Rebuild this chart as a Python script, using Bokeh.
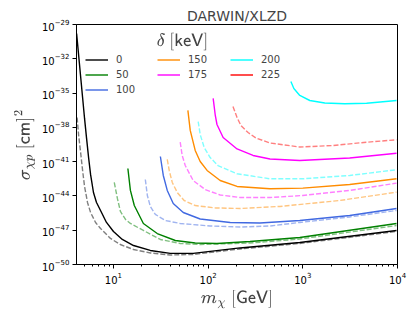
from bokeh.plotting import figure
from bokeh.models import Range1d, FixedTicker, Legend, LegendItem, Label
from bokeh.embed import file_html
from bokeh.resources import INLINE

# ---- data: WIMP mass [GeV] and log10 of cross-section [cm^2] ----
deltas = [0, 50, 100, 150, 175, 200, 225]
colors = ["black", "green", "royalblue", "darkorange", "magenta", "cyan", "red"]

# delta = 0 keV
m_d0 = [4.08, 4.29, 4.50, 4.72, 4.95, 5.20, 5.46, 5.73, 6.15, 6.62, 7.30, 8.44, 10.0, 12.4, 16.3, 24.5, 39.8, 69.5, 217, 929, 9770]
s_d0 = [-29.79, -31.71, -33.55, -35.39, -37.22, -38.97, -40.64, -42.12, -43.70, -44.57, -45.27, -46.32, -47.11, -47.81, -48.34, -48.77, -49.03, -49.03, -48.55, -48.07, -47.02]
m_d0_dash = [4.13, 4.29, 4.50, 4.72, 4.95, 5.32, 5.73, 6.47, 7.30, 9.30, 11.8, 16.3, 24.5, 39.8, 69.5, 217, 929, 9770]
s_d0_dash = [-37.14, -38.71, -40.20, -41.77, -43.17, -44.57, -45.45, -46.32, -46.85, -47.72, -48.25, -48.69, -48.99, -49.17, -49.12, -48.64, -48.16, -47.11]

# delta = 50 keV
m_d50 = [14.2, 15.1, 16.6, 20.7, 29.0, 45.0, 73.0, 124, 277, 929, 9770]
s_d50 = [-41.60, -43.52, -44.84, -46.41, -47.29, -47.90, -48.12, -48.16, -47.99, -47.64, -46.41]
m_d50_dash = [10.2, 11.0, 11.85, 13.4, 15.1, 20.7, 31.3, 50.7, 82.4, 277, 929, 9770]
s_d50_dash = [-42.82, -44.22, -45.36, -46.06, -46.41, -47.02, -47.81, -48.16, -48.25, -48.12, -47.77, -46.59]

# delta = 100 keV
m_d100 = [31.3, 33.6, 37.0, 42.8, 54.6, 82.4, 171, 352, 929, 3126, 9770]
s_d100 = [-40.55, -42.21, -43.52, -44.66, -45.45, -46.02, -46.32, -46.37, -46.15, -45.71, -45.10]
m_d100_dash = [21.7, 22.8, 24.5, 27.7, 35.3, 50.7, 105, 217, 450, 929, 3126, 9770]
s_d100_dash = [-42.56, -43.96, -44.92, -45.62, -46.15, -46.41, -46.63, -46.72, -46.63, -46.32, -45.84, -45.27]

# delta = 150 keV
m_d150 = [61.1, 64.7, 73.0, 82.4, 97.5, 134, 202, 450, 1000, 3126, 9770]
s_d150 = [-36.52, -38.27, -40.02, -40.99, -41.77, -42.65, -43.17, -43.37, -43.32, -43.00, -42.50]
m_d150_dash = [37.0, 38.8, 41.8, 47.2, 55.8, 73.0, 119, 217, 573, 2449, 9770]
s_d150_dash = [-40.81, -41.77, -42.82, -43.70, -44.40, -44.84, -45.05, -45.10, -44.92, -44.40, -43.67]

# delta = 175 keV
m_d175 = [113, 119, 124, 144, 202, 298, 450, 929, 3126, 9770]
s_d175 = [-35.47, -36.96, -37.75, -38.89, -39.89, -40.46, -40.77, -40.90, -40.68, -40.26]
m_d175_dash = [50.7, 53.2, 57.3, 69.5, 93.0, 134, 217, 450, 1000, 3126, 9770]
s_d175_dash = [-39.30, -40.46, -41.34, -42.65, -43.44, -43.92, -44.14, -44.14, -43.96, -43.52, -42.88]

# delta = 200 keV
m_d200 = [748, 804, 929, 1185, 1706, 2766, 4718, 9770]
s_d200 = [-33.99, -34.60, -35.21, -35.65, -35.87, -35.94, -35.89, -35.65]
m_d200_dash = [78.5, 82.4, 90.8, 105, 127, 202, 450, 1000, 3126, 9770]
s_d200_dash = [-37.49, -38.62, -39.76, -40.64, -41.34, -42.06, -42.50, -42.50, -42.21, -41.71]

# delta = 225 keV (solid curve lies outside the plotted mass range)
m_d225 = []
s_d225 = []
m_d225_dash = [183, 202, 222, 264, 320, 450, 929, 2070, 4718, 9770]
s_d225_dash = [-36.17, -37.14, -37.84, -38.45, -38.93, -39.37, -39.72, -39.59, -39.30, -39.09]

x_major = [10, 100, 1000, 10000]
x_minor = [4, 5, 6, 7, 8, 9, 20, 30, 40, 50, 60, 70, 80, 90,
           200, 300, 400, 500, 600, 700, 800, 900,
           2000, 3000, 4000, 5000, 6000, 7000, 8000, 9000]
y_major_exp = [-50, -47, -44, -41, -38, -35, -32, -29]

solid_m = [m_d0, m_d50, m_d100, m_d150, m_d175, m_d200, m_d225]
solid_s = [s_d0, s_d50, s_d100, s_d150, s_d175, s_d200, s_d225]
dash_m = [m_d0_dash, m_d50_dash, m_d100_dash, m_d150_dash, m_d175_dash, m_d200_dash, m_d225_dash]
dash_s = [s_d0_dash, s_d50_dash, s_d100_dash, s_d150_dash, s_d175_dash, s_d200_dash, s_d225_dash]

FONT = "DejaVu Sans"

p = figure(width=415, height=314, x_axis_type="log", y_axis_type="log",
           x_range=Range1d(4.07, 1e4), y_range=Range1d(1e-50, 1e-29),
           output_backend="svg", toolbar_location=None,
           min_border_left=76, min_border_right=18, min_border_top=24, min_border_bottom=50,
           title="DARWIN/XLZD")
p.title.align = "center"
p.title.text_font = FONT
p.title.text_font_style = "normal"
p.title.text_font_size = "14px"
p.title.standoff = 2
p.title.offset = 0

p.xgrid.visible = False
p.ygrid.visible = False
p.outline_line_color = "black"
p.outline_line_width = 1
p.background_fill_color = "white"
p.border_fill_color = "white"

p.xaxis.ticker = FixedTicker(ticks=x_major, minor_ticks=x_minor)
p.yaxis.ticker = FixedTicker(ticks=[10.0 ** e for e in y_major_exp], minor_ticks=[])
for ax in (p.xaxis, p.yaxis):
    ax.major_label_text_font = FONT
    ax.major_label_text_font_size = "10px"
    ax.major_label_text_color = "black"
    ax.major_tick_out = 4
    ax.major_tick_in = 0
    ax.minor_tick_out = 2
    ax.minor_tick_in = 0
    ax.axis_line_color = "black"
    ax.major_tick_line_color = "black"
    ax.minor_tick_line_color = "black"
    ax.axis_label_text_font_style = "normal"
    ax.axis_label_text_font_size = "14px"
p.xaxis.major_label_standoff = 3
p.yaxis.major_label_standoff = 3
p.xaxis.axis_label = r"$$m_{\chi}\ [\mathsf{GeV}]$$"
p.yaxis.axis_label = r"$$\sigma_{\chi p}\ [\mathsf{cm}]^2$$"
p.xaxis.axis_label_standoff = 3
p.yaxis.axis_label_standoff = 4

solid_r = []
for mm, ss, c in zip(solid_m, solid_s, colors):
    xs = list(mm) if mm else [float("nan")]
    ys = [10.0 ** v for v in ss] if ss else [float("nan")]
    r = p.line(xs, ys, line_color=c, line_width=1.4)
    solid_r.append(r)
for mm, ss, c in zip(dash_m, dash_s, colors):
    p.line(mm, [10.0 ** v for v in ss], line_color=c, line_width=1.4,
           line_alpha=0.5, line_dash="5 2")

groups = [(0, 3, 9), (3, 5, 81), (5, 7, 154)]
for a, b, xpos in groups:
    items = [LegendItem(label=str(deltas[i]), renderers=[solid_r[i]]) for i in range(a, b)]
    n = b - a
    height = n * 15.5
    leg = Legend(items=items, location=(xpos, 240 - 26.5 - height),
                 orientation="vertical", border_line_color=None,
                 background_fill_alpha=0, padding=0, margin=0, spacing=0,
                 glyph_width=23, glyph_height=15, label_height=15,
                 label_standoff=8, label_text_font=FONT,
                 label_text_font_size="10px")
    p.add_layout(leg, "center")

p.add_layout(Label(x=106, y=223, x_units="screen", y_units="screen",
                   text=r"$$\delta\ [\mathsf{keV}]$$", text_align="center",
                   text_baseline="middle", text_font_size="14px"))

open("out.html", "w").write(file_html(p, INLINE))
